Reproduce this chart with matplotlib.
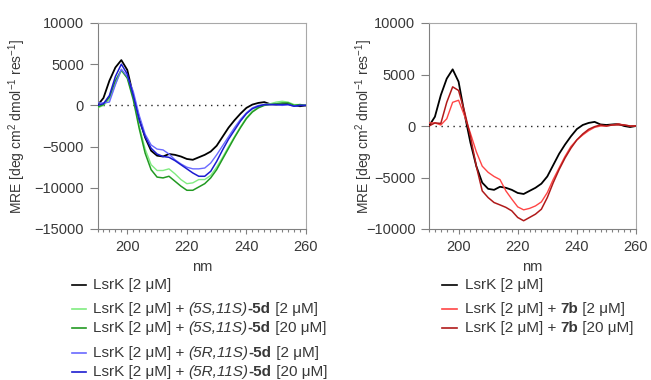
import numpy as np
import matplotlib
matplotlib.use("Agg")
from matplotlib import pyplot as plt
from matplotlib.lines import Line2D

plt.rcParams.update({'font.family': ['Liberation Sans', 'DejaVu Sans'],
                     'mathtext.fontset': 'custom',
                     'mathtext.rm': 'Liberation Sans',
                     'mathtext.it': 'Liberation Sans:italic',
                     'mathtext.bf': 'Liberation Sans:bold',
                     'font.size': 10})

TEXT = '#383838'
GREY = '#808080'

# wavelength (nm)
nm = [190, 192, 194, 196, 198, 200, 202, 204, 206, 208, 210, 212, 214, 216, 218, 220, 222, 224,
      226, 228, 230, 232, 234, 236, 238, 240, 242, 244, 246, 248, 250, 252, 254, 256, 258, 260]

# MRE values
lsrk = [0, 900, 3000, 4600, 5500, 4300, 1200, -1600, -3900, -5500, -6100, -6200, -5900, -6000, -6200, -6500, -6600, -6300,
        -6000, -5600, -4900, -3800, -2700, -1800, -1000, -300, 100, 300, 400, 150, 100, 150, 200, 0, -100, 0]
ss_2 = [-300, 0, 700, 2600, 4200, 3400, 1000, -2500, -5300, -7200, -7900, -7900, -7700, -8300, -9000, -9500, -9400, -9000,
        -9000, -8500, -7500, -6300, -5000, -3800, -2600, -1500, -700, -200, 100, 200, 400, 500, 400, 100, 100, 0]
ss_20 = [-200, 100, 1000, 3000, 4300, 3300, 700, -2800, -5800, -7800, -8700, -8800, -8600, -9200, -9800, -10300, -10300, -9900,
         -9500, -8800, -7800, -6500, -5200, -3900, -2700, -1600, -800, -300, 0, 100, 200, 300, 300, 0, 100, 0]
rs_2 = [300, 300, 400, 2500, 4400, 3500, 1700, -1200, -3500, -4800, -5300, -5400, -5900, -6600, -7100, -7500, -7700, -7700,
        -7600, -7000, -6000, -4900, -3800, -2700, -1700, -900, -300, 0, 100, 100, 100, 0, 100, -100, 0, 0]
rs_20 = [0, 200, 1200, 3500, 5000, 3800, 1200, -1800, -3800, -5200, -5900, -6200, -6300, -6700, -7200, -7700, -8200, -8600,
         -8600, -8000, -6800, -5400, -4100, -3000, -1900, -1000, -400, -100, 100, 100, 100, 100, 100, -100, 0, 0]
b7_2 = [300, 300, 100, 700, 2300, 2500, 1000, -700, -2500, -3900, -4500, -4900, -5200, -6300, -7100, -7850, -8140, -8000,
        -7760, -7370, -6470, -5190, -4070, -2950, -1990, -1350, -870, -450, -130, 0, 0, 100, 200, 100, 0, 0]
b7_20 = [0, 300, 250, 2300, 3800, 3450, 1400, -1000, -3900, -6300, -6950, -7430, -7660, -7900, -8240, -8880, -9200, -8880,
         -8560, -8080, -6950, -5510, -4230, -3110, -2150, -1350, -770, -320, -60, 100, 0, 100, 100, 100, 0, 0]

left_series = [(lsrk, '#000000', 1.3), (ss_2, '#80ec80', 1.0), (ss_20, '#229a22', 1.1),
               (rs_2, '#6a6aff', 1.0), (rs_20, '#1c1cd0', 1.1)]
right_series = [(lsrk, '#000000', 1.3), (b7_2, '#ff4545', 1.0), (b7_20, '#b01a1a', 1.1)]

fig = plt.figure(figsize=(6.51, 3.8), dpi=100)
W, H = 651.0, 380.0


def setup(ax, ylo, lbl_x):
    for s in ['left', 'bottom']:
        ax.spines[s].set_color(GREY)
    for s in ['top', 'right']:
        ax.spines[s].set_color('#a8a8a8')
    ax.set_xlim(190, 260)
    ax.set_ylim(ylo, 10000)
    ax.set_xticks([200, 220, 240, 260])
    ax.set_xticks(np.arange(190, 261, 2), minor=True)
    ax.set_yticks(np.arange(ylo, 10001, 5000))
    ax.tick_params(axis='x', which='major', length=3.6, width=0.8, color=GREY, pad=4, labelcolor=TEXT, labelsize=10.5)
    ax.tick_params(axis='x', which='minor', length=2, width=0.8, color=GREY)
    ax.tick_params(axis='y', length=5.8, width=0.8, color=GREY, pad=4, labelcolor=TEXT, labelsize=10.5)
    ax.hlines(0, 192, 240, colors='#222222', linewidth=1.0, linestyles=(0, (1, 3.3)))
    ax.set_xlabel('nm', color=TEXT, fontsize=10.5)
    ax.xaxis.set_label_coords(0.5, -0.15)
    ax.set_ylabel(r'MRE [deg cm$^{2}$ dmol$^{-1}$ res$^{-1}$]', color=TEXT, fontsize=10)
    ax.yaxis.set_label_coords(lbl_x, 0.5)


axL = fig.add_axes([97.5 / W, 1 - 229 / H, 208.5 / W, 206 / H])
axR = fig.add_axes([429 / W, 1 - 229 / H, 207 / W, 206 / H])
setup(axL, -15000, -0.333)
setup(axR, -10000, -0.26)

for vals, c, lw in left_series:
    axL.plot(nm, vals, color=c, lw=lw, zorder=3)
for vals, c, lw in right_series:
    axR.plot(nm, vals, color=c, lw=lw, zorder=3)

renderer = fig.canvas.get_renderer()


def rich_text(x, y, parts):
    # x, y in pixels from top-left
    for s, weight, style in parts:
        t = fig.text(x / W, 1 - y / H, s, fontweight=weight, fontstyle=style,
                     va='center', ha='left', color=TEXT, fontsize=11)
        x += t.get_window_extent(renderer).width


def legend_row(x0, x1, xt, y, color, parts):
    fig.add_artist(Line2D([x0 / W, x1 / W], [1 - y / H, 1 - y / H], color=color, lw=1.2))
    rich_text(xt, y, parts)


N, B, I = 'normal', 'bold', 'italic'
mu2 = ('LsrK [2 \u03bcM] + ', N, N)
left_rows = [
    (285, '#000000', [('LsrK [2 \u03bcM]', N, N)]),
    (309, '#80ec80', [mu2, ('(5S,11S)', N, I), ('-5d', B, N), (' [2 \u03bcM]', N, N)]),
    (328, '#229a22', [mu2, ('(5S,11S)', N, I), ('-5d', B, N), (' [20 \u03bcM]', N, N)]),
    (353, '#6a6aff', [mu2, ('(5R,11S)', N, I), ('-5d', B, N), (' [2 \u03bcM]', N, N)]),
    (372, '#1c1cd0', [mu2, ('(5R,11S)', N, I), ('-5d', B, N), (' [20 \u03bcM]', N, N)]),
]
for y, c, parts in left_rows:
    legend_row(72, 86, 93, y, c, parts)

right_rows = [
    (285, '#000000', [('LsrK [2 \u03bcM]', N, N)]),
    (309, '#ff4545', [mu2, ('7b', B, N), (' [2 \u03bcM]', N, N)]),
    (328, '#b01a1a', [mu2, ('7b', B, N), (' [20 \u03bcM]', N, N)]),
]
for y, c, parts in right_rows:
    legend_row(442, 457, 465, y, c, parts)

fig.savefig('out.png', dpi=100)
